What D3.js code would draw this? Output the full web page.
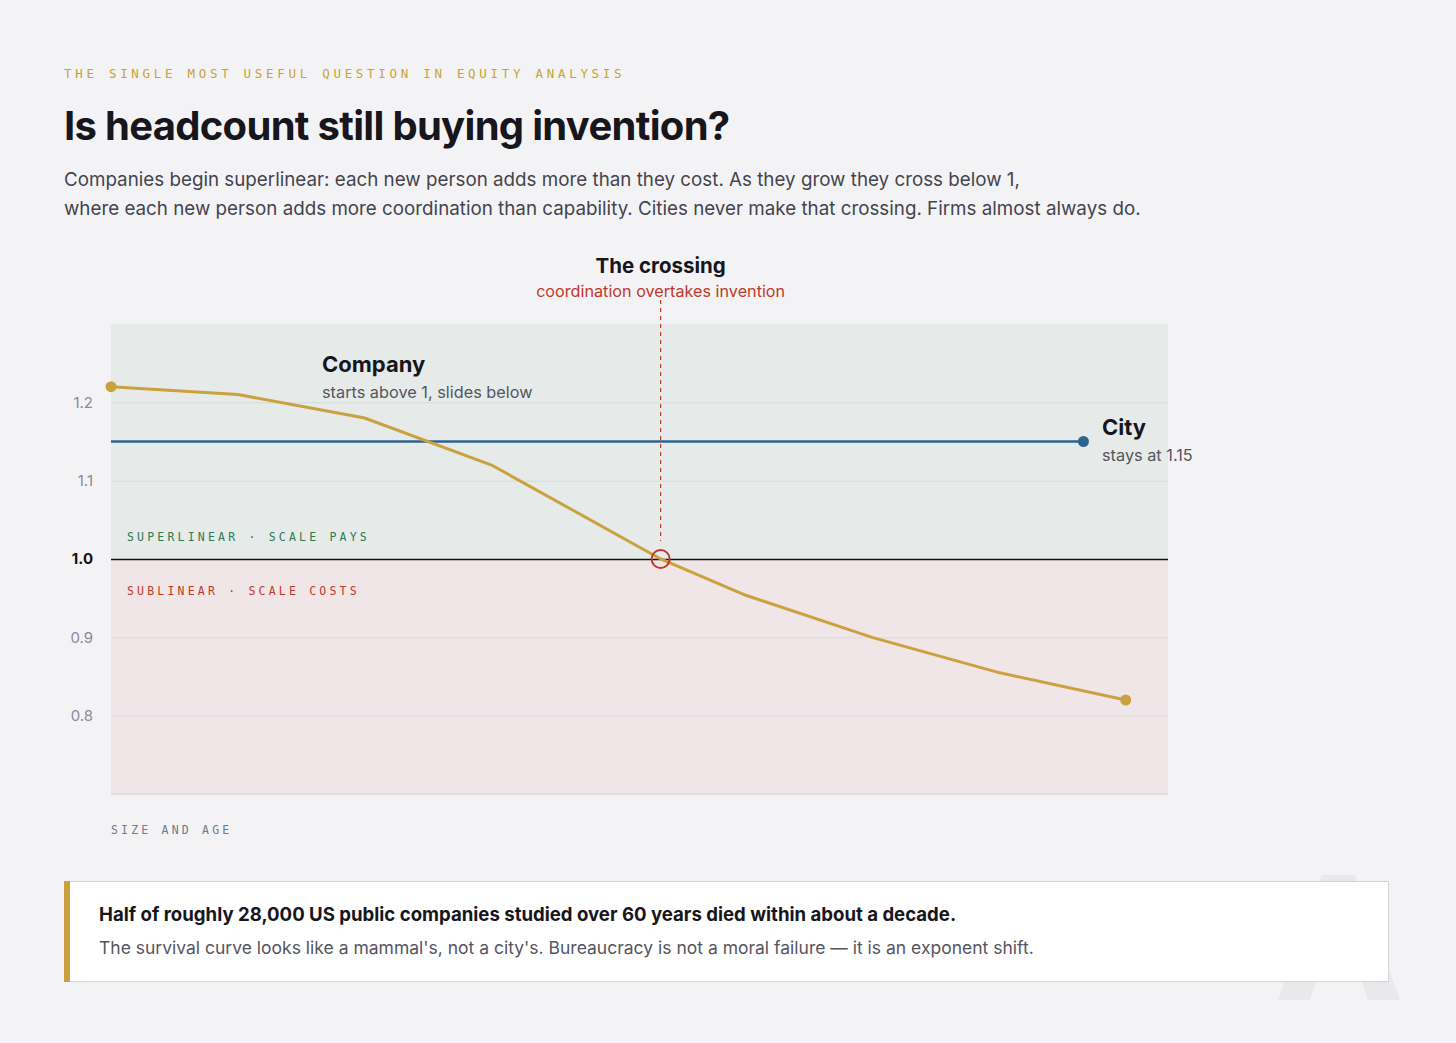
<!DOCTYPE html>
<html><head><meta charset="utf-8">
<script src="https://cdn.jsdelivr.net/npm/d3@7"></script>
<style>
body{margin:0;background:#f3f3f5;font-family:Inter,"Noto Sans",sans-serif;}
</style></head>
<body><div id="chart"></div>
<script>
// company exponent curve, x = size/age (0..10)
const companyX = [0, 1.2, 2.4, 3.6, 5.2, 6.0, 7.2, 8.4, 9.6];
const companyY = [1.22, 1.21, 1.18, 1.12, 1.0, 0.954, 0.90, 0.855, 0.82];
const cityX = [0, 9.2];
const cityY = [1.15, 1.15];
const yTicks = [0.8, 0.9, 1.0, 1.1, 1.2];
const crossing = {x: 5.2, y: 1.0};

const W = 1456, H = 1043;
const svg = d3.select("#chart").append("svg").attr("width", W).attr("height", H);
svg.append("rect").attr("width", W).attr("height", H).attr("fill", "#f3f3f5");

// faint watermark shape behind the callout
svg.append("path").attr("d", "M1322,875 L1355,875 L1400,1000 L1368,1000 L1338,915 L1310,1000 L1278,1000 Z")
  .attr("fill", "#e9e9eb");

const mono = "'DejaVu Sans Mono',monospace";
svg.append("text").attr("x", 64).attr("y", 78).attr("font-family", mono)
  .attr("font-size", 12.5).attr("letter-spacing", "3.7px").attr("fill", "#c9a233")
  .text("THE SINGLE MOST USEFUL QUESTION IN EQUITY ANALYSIS");
svg.append("text").attr("x", 64).attr("y", 140).attr("font-size", 40).attr("font-weight", 700)
  .attr("letter-spacing", "-0.7px").attr("fill", "#16161c").text("Is headcount still buying invention?");
svg.append("text").attr("x", 64).attr("y", 186).attr("font-size", 18.8).attr("fill", "#44444e")
  .text("Companies begin superlinear: each new person adds more than they cost. As they grow they cross below 1,");
svg.append("text").attr("x", 64).attr("y", 215).attr("font-size", 18.8).attr("fill", "#44444e")
  .text("where each new person adds more coordination than capability. Cities never make that crossing. Firms almost always do.");

const x = d3.scaleLinear().domain([0, 10]).range([111, 1168]);
const y = d3.scaleLinear().domain([0.7, 1.3]).range([794, 324]);

svg.append("rect").attr("x", x(0)).attr("y", y(1.3)).attr("width", x(10) - x(0))
  .attr("height", y(1.0) - y(1.3)).attr("fill", "#e6ebea");
svg.append("rect").attr("x", x(0)).attr("y", y(1.0)).attr("width", x(10) - x(0))
  .attr("height", y(0.7) - y(1.0)).attr("fill", "#f1e6e7");

const yAxis = svg.append("g").attr("transform", `translate(${x(0)},0)`)
  .call(d3.axisLeft(y).tickValues(yTicks).tickSize(-(x(10) - x(0))).tickFormat(d3.format(".1f")));
yAxis.select(".domain").remove();
yAxis.selectAll(".tick line").attr("stroke", d => d === 1 ? "#111" : "#d7d9dc")
  .attr("stroke-width", d => d === 1 ? 1.6 : 1);
yAxis.selectAll(".tick text").attr("x", -18).attr("font-family", "Inter,sans-serif").attr("font-size", 15)
  .attr("fill", d => d === 1 ? "#111" : "#8a8a9a").attr("font-weight", d => d === 1 ? 700 : 400);
svg.append("line").attr("x1", x(0)).attr("x2", x(10)).attr("y1", y(0.7)).attr("y2", y(0.7)).attr("stroke", "#cfd0d4");

svg.append("text").attr("x", 127).attr("y", 541).attr("font-family", mono)
  .attr("font-size", 11.5).attr("letter-spacing", "3.2px").attr("fill", "#2b7a54").text("SUPERLINEAR · SCALE PAYS");
svg.append("text").attr("x", 127).attr("y", 595).attr("font-family", mono)
  .attr("font-size", 11.5).attr("letter-spacing", "3.2px").attr("fill", "#c0392b").text("SUBLINEAR · SCALE COSTS");
svg.append("text").attr("x", 111).attr("y", 834).attr("font-family", mono)
  .attr("font-size", 11.5).attr("letter-spacing", "3.2px").attr("fill", "#777783").text("SIZE AND AGE");

// crossing marker
svg.append("line").attr("x1", x(crossing.x)).attr("x2", x(crossing.x)).attr("y1", 300).attr("y2", y(1.0) - 18)
  .attr("stroke", "#c0392b").attr("stroke-dasharray", "4,4").attr("stroke-width", 1.2);
svg.append("text").attr("x", x(crossing.x)).attr("y", 273).attr("text-anchor", "middle")
  .attr("font-size", 20.5).attr("font-weight", 700).attr("fill", "#16161c").text("The crossing");
svg.append("text").attr("x", x(crossing.x)).attr("y", 297).attr("text-anchor", "middle")
  .attr("font-size", 16.2).attr("fill", "#c0392b").text("coordination overtakes invention");

const line = d3.line().x(d => x(d[0])).y(d => y(d[1]));
const city = d3.zip(cityX, cityY);
svg.append("path").attr("d", line(city)).attr("fill", "none").attr("stroke", "#2a6590").attr("stroke-width", 2.5);
svg.append("circle").attr("cx", x(cityX[1])).attr("cy", y(cityY[1])).attr("r", 5.5).attr("fill", "#2a6590");

const comp = d3.zip(companyX, companyY);
svg.append("path").attr("d", line(comp)).attr("fill", "none").attr("stroke", "#c9a23f").attr("stroke-width", 3);
[comp[0], comp[comp.length - 1]].forEach(p =>
  svg.append("circle").attr("cx", x(p[0])).attr("cy", y(p[1])).attr("r", 5.5).attr("fill", "#c9a23f"));
svg.append("circle").attr("cx", x(crossing.x)).attr("cy", y(crossing.y)).attr("r", 9)
  .attr("fill", "none").attr("stroke", "#c0392b").attr("stroke-width", 2);

svg.append("text").attr("x", 322).attr("y", 372).attr("font-size", 22).attr("font-weight", 700).attr("fill", "#16161c").text("Company");
svg.append("text").attr("x", 322).attr("y", 398).attr("font-size", 16.3).attr("fill", "#555560").text("starts above 1, slides below");
svg.append("text").attr("x", 1102).attr("y", 435).attr("font-size", 22).attr("font-weight", 700).attr("fill", "#16161c").text("City");
svg.append("text").attr("x", 1102).attr("y", 461).attr("font-size", 16.3).attr("fill", "#555560").text("stays at 1.15");

// callout box
svg.append("rect").attr("x", 64.5).attr("y", 881.5).attr("width", 1324).attr("height", 100)
  .attr("fill", "#fff").attr("stroke", "#d3d3da");
svg.append("rect").attr("x", 64).attr("y", 881).attr("width", 6).attr("height", 101).attr("fill", "#c9a23f");
svg.append("text").attr("x", 99).attr("y", 921).attr("font-size", 18.6).attr("font-weight", 700).attr("fill", "#16161c")
  .text("Half of roughly 28,000 US public companies studied over 60 years died within about a decade.");
svg.append("text").attr("x", 99).attr("y", 954).attr("font-size", 17.5).attr("fill", "#55555f")
  .text("The survival curve looks like a mammal's, not a city's. Bureaucracy is not a moral failure — it is an exponent shift.");
</script></body></html>
